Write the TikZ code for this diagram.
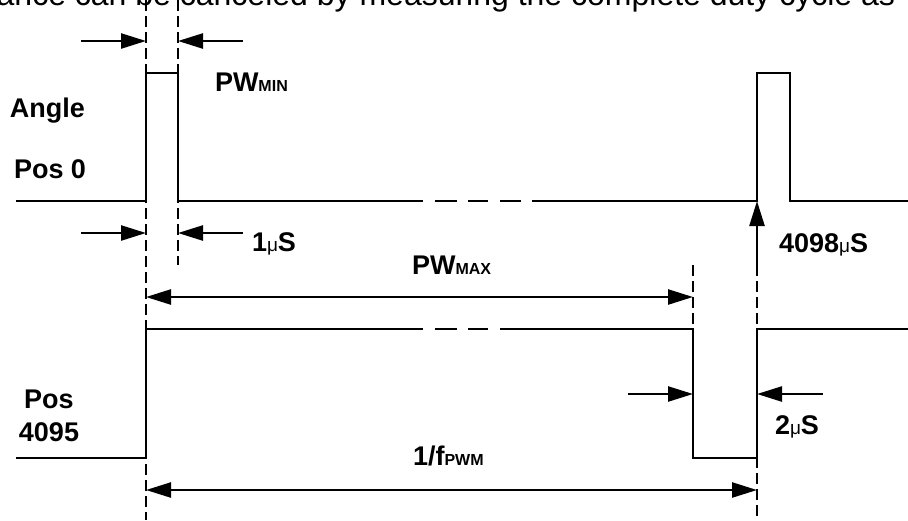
\documentclass[tikz,border=0pt]{standalone}
\usepackage{fontspec}
\setmainfont{Liberation Sans}
\usetikzlibrary{
  arrows.meta,     % filled triangle tips
  positioning      % positions like above of node
}
\newcommand{\lbl}{\fontsize{13.5}{16}\selectfont\bfseries}
\newcommand{\lowtxt}[1]{{\fontsize{8}{9}\selectfont #1}}
\newcommand{\micro}{{\fontsize{9.5}{10}\selectfont\mdseries μ}}
\tikzset{
  every node/.style = {
    inner sep=0pt,
    outer sep=0pt,
    anchor=base west
  },
  signal/.style = {line width=1.35pt},
  thinsignal/.style = {line width=0.65pt},
  guide/.style = {line width=0.6pt, dash pattern=on 5.5pt off 2.5pt},
  dim/.style = {line width=1.2pt, -{Triangle[length=12.5pt,width=7.5pt]}},
  dimboth/.style = {dim, {Triangle[length=12.5pt,width=7.5pt]}-{Triangle[length=12.5pt,width=7.5pt]}},
  label/.style = {font=\lbl},
  bodytext/.style = {font=\fontsize{16}{19}\selectfont, anchor=base east}
}

\begin{document}
\begin{tikzpicture}[x=0.5pt, y=-0.5pt]
  \useasboundingbox (0,0) rectangle (908,520);

  %% line of the page above
  \node[bodytext] (para) at (895,5) {ance can be canceled by measuring the complete duty cycle as};

  %% guides
  \draw[guide] (146,0) -- (146,520);
  \draw[guide] (178,0) -- (178,265);
  \draw[guide] (693,265) -- (693,329);
  \draw[guide] (757,265) -- (757,520);

  %% signal at angle pos 0
  \draw[signal] (16,201) -- (146,201) -- (146,73) -- (178,73) -- (178,201) -- (423,201);
  \foreach \a/\b in {435/457, 468/488, 500/521}
    \draw[signal] (\a,201) -- (\b,201);
  \draw[signal] (532,201) -- (757,201) -- (757,73) -- (790,73) -- (790,201) -- (908,201);

  %% signal at pos 4095
  \draw[signal] (16,458) -- (146,458) -- (146,329) -- (423,329);
  \foreach \a/\b in {435/457, 468/488, 500/522}
    \draw[signal] (\a,329) -- (\b,329);
  \draw[thinsignal] (522,329) -- (693,329) -- (693,458) -- (757,458) -- (757,329) -- (908,329);

  %% labels
  \node[label] (angle) at (10,117) {Angle};
  \node[label] (pos0) at (14,178) {Pos 0};
  \node[label] (pwmin) at (215,91) {PW\lowtxt{MIN}};
  \node[label] (onemu) at (252,251) {1\micro S};
  \node[label] (mu4098) at (779,252) {4098\micro S};
  \node[label] (pwmax) at (412,274) {PW\lowtxt{MAX}};
  \node[label, anchor=base] (pos) at (49,408) {Pos};
  \node[label, anchor=base] (pos4095) at (49,441) {4095};
  \node[label] (twomu) at (775,434) {2\micro S};
  \node[label] (fpwm) at (413,465) {1/f\lowtxt{PWM}};

  %% arrows
  \foreach \y/\n in {41/min, 233/one} {
    \coordinate (\n-l) at (81,\y);
    \coordinate (\n-a) at (146,\y);
    \coordinate (\n-b) at (178,\y);
    \coordinate (\n-r) at (243,\y);
    \draw[dim] (\n-l) -- (\n-a);
    \draw[dim] (\n-r) -- (\n-b);
  }
  \coordinate (max-a) at (146,297);
  \coordinate (max-b) at (693,297);
  \draw[dimboth] (max-a) -- (max-b);

  \coordinate (two-l) at (628,394);
  \coordinate (two-a) at (693,394);
  \coordinate (two-b) at (757,394);
  \coordinate (two-r) at (823,394);
  \draw[dim] (two-l) -- (two-a);
  \draw[dim] (two-r) -- (two-b);

  \coordinate (per-a) at (146,490);
  \coordinate (per-b) at (757,490);
  \draw[dimboth] (per-a) -- (per-b);

  \coordinate (edge-low) at (757,265);
  \coordinate (edge-top) at (757,201);
  \draw[dim] (edge-low) -- (edge-top);

\end{tikzpicture}
\end{document}
